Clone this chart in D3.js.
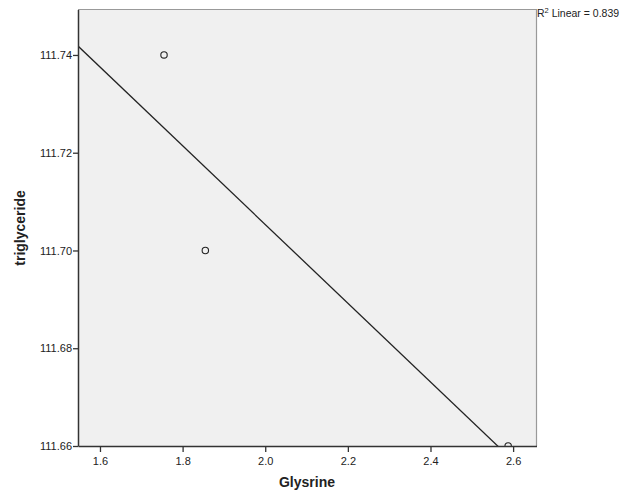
<!DOCTYPE html>
<html><head><meta charset="utf-8">
<script src="https://cdn.jsdelivr.net/npm/d3@7"></script>
<style>body{margin:0;background:#fff;} text{font-family:"Liberation Sans",Arial,sans-serif;}</style>
</head><body>
<svg id="c" width="624" height="495"></svg>
<script>
const glysrine = [1.755, 1.855, 2.588];
const triglyceride = [111.74, 111.70, 111.66];
const xTicks = [1.6, 1.8, 2.0, 2.2, 2.4, 2.6];
const yTicks = [111.66, 111.68, 111.70, 111.72, 111.74];

const svg = d3.select("#c");
const L = 78, T = 9.5, R = 536.5, B = 446;
const x = d3.scaleLinear().domain([1.5468, 2.6566]).range([L, R]);
const y = d3.scaleLinear().domain([111.66, 111.7493]).range([B, T]);

svg.append("rect").attr("x", L).attr("y", T).attr("width", R - L).attr("height", B - T)
  .attr("fill", "#f0f0f0").attr("stroke", "none");
svg.append("defs").append("clipPath").attr("id", "clip").append("rect")
  .attr("x", L).attr("y", T).attr("width", R - L).attr("height", B - T);

// regression
const n = glysrine.length;
const mx = d3.mean(glysrine), my = d3.mean(triglyceride);
let sxy = 0, sxx = 0, syy = 0;
for (let i = 0; i < n; i++) {
  sxy += (glysrine[i] - mx) * (triglyceride[i] - my);
  sxx += (glysrine[i] - mx) ** 2;
  syy += (triglyceride[i] - my) ** 2;
}
const slope = sxy / sxx, icpt = my - slope * mx;
const r2 = sxy * sxy / (sxx * syy);
const [x0, x1] = x.domain();
const g = svg.append("g").attr("clip-path", "url(#clip)");
g.append("line")
  .attr("x1", x(x0)).attr("y1", y(icpt + slope * x0))
  .attr("x2", x(x1)).attr("y2", y(icpt + slope * x1))
  .attr("stroke", "#222").attr("stroke-width", 1.3);
g.selectAll("circle").data(glysrine).join("circle")
  .attr("cx", d => x(d)).attr("cy", (d, i) => y(triglyceride[i]))
  .attr("r", 3.2).attr("fill", "none").attr("stroke", "#222").attr("stroke-width", 1.1);

// frame
svg.append("path").attr("d", `M${L},${T}H${R}V${B}`).attr("fill", "none").attr("stroke", "#999").attr("stroke-width", 1.2);

const xa = svg.append("g").attr("transform", `translate(0,${B})`)
  .call(d3.axisBottom(x).tickValues(xTicks).tickFormat(d3.format(".1f")).tickSize(6).tickSizeOuter(0));
const ya = svg.append("g").attr("transform", `translate(${L},0)`)
  .call(d3.axisLeft(y).tickValues(yTicks).tickFormat(d3.format(".2f")).tickSize(5).tickSizeOuter(0));
[xa, ya].forEach(a => {
  a.select(".domain").attr("stroke", "#333").attr("stroke-width", 1.5);
  a.selectAll(".tick line").attr("stroke", "#333").attr("stroke-width", 1.3);
  a.selectAll("text").attr("fill", "#222").attr("font-size", 11).attr("font-family", '"Liberation Sans",Arial,sans-serif');
});
xa.selectAll("text").attr("dy", "0.9em");
ya.selectAll("text").attr("x", -6);

svg.append("text").attr("x", 307).attr("y", 487).attr("text-anchor", "middle")
  .attr("font-size", 14).attr("font-weight", "bold").attr("fill", "#222").text("Glysrine");
svg.append("text").attr("transform", "translate(25,228) rotate(-90)").attr("text-anchor", "middle")
  .attr("font-size", 14).attr("font-weight", "bold").attr("fill", "#222").text("triglyceride");

const t = svg.append("text").attr("x", 537).attr("y", 17).attr("font-size", 10.5).attr("fill", "#222");
t.append("tspan").text("R");
t.append("tspan").attr("dy", -4).attr("font-size", 7.5).text("2");
t.append("tspan").attr("dy", 4).text(" Linear = " + r2.toFixed(3));
</script>
</body></html>
